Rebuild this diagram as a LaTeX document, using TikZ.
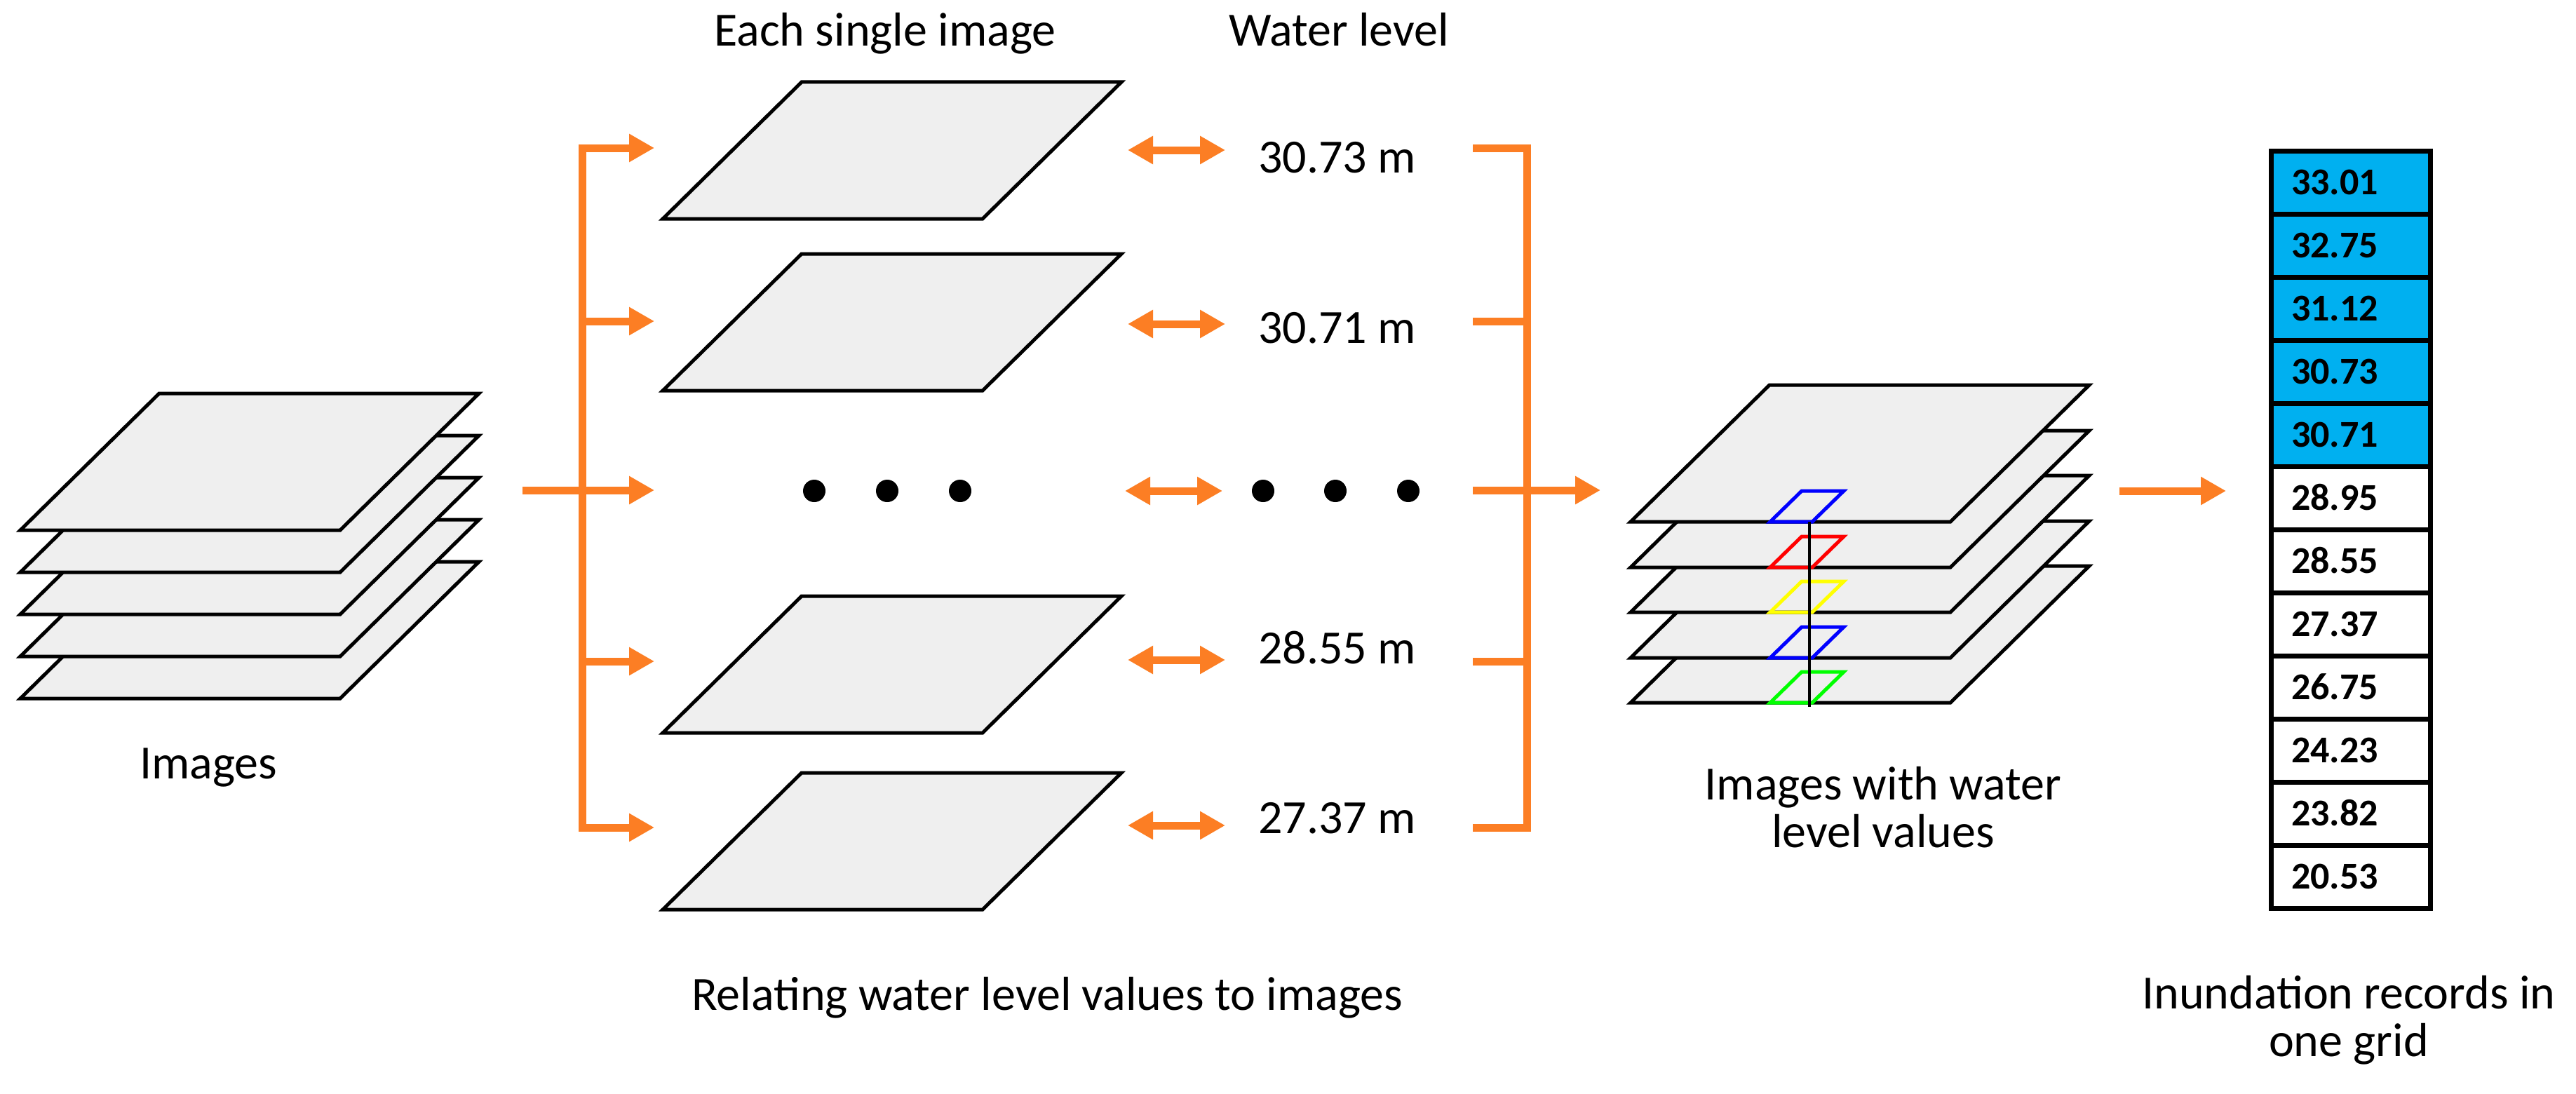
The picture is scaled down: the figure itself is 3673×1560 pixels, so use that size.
\documentclass[tikz,border=0pt]{standalone}
\usepackage{fontspec}
\setmainfont{Carlito}
\usetikzlibrary{arrows.meta}
\definecolor{orng}{RGB}{252,126,36}
\definecolor{sheetgray}{RGB}{239,239,239}
\definecolor{cellblue}{RGB}{0,176,240}
\definecolor{pblue}{RGB}{0,0,255}
\definecolor{pred}{RGB}{255,0,0}
\definecolor{pyellow}{RGB}{255,255,0}
\definecolor{pgreen}{RGB}{0,255,0}
\newcommand\drawsheet[2]{\draw[sheetbox] (#1,#2) -- ++(456,0) -- ++(198,-195) -- ++(-456,0) -- cycle;}
\newcommand\drawpatch[3]{\draw[line width=5pt,draw=#3,line join=miter] (#1,#2) -- ++(60,0) -- ++(45,-44) -- ++(-60,0) -- cycle;}
\begin{document}
\begin{tikzpicture}[x=1pt,y=-1pt,
  sheetbox/.style={fill=sheetgray,draw=black,line width=5pt,line join=miter},
  oline/.style={draw=orng,line width=11pt},
  oarrow/.style={oline,-{Triangle[length=36pt,width=38pt]}},
  darrow/.style={oline,{Triangle[length=36pt,width=38pt]}-{Triangle[length=36pt,width=38pt]}},
  lbl/.style={font=\fontsize{68}{68}\selectfont, inner sep=0pt},
  cellnum/.style={font=\bfseries\fontsize{54}{54}\selectfont, inner sep=0pt, anchor=base west},
  dotstyle/.style={circle,fill=black,minimum size=32pt,inner sep=0pt},
  cellbox/.style={draw=black,line width=7pt}
]
\fill[white] (0,0) rectangle (3673,1560);
\useasboundingbox (0,0) rectangle (3673,1560);

% ---------- left stack ----------
\drawsheet{29}{996}
\drawsheet{29}{936}
\drawsheet{29}{876}
\drawsheet{29}{816}
\drawsheet{29}{756}
\node[lbl,anchor=base] (imageslbl) at (297,1110) {Images};

% ---------- middle single images ----------
\drawsheet{945}{312}
\drawsheet{945}{557}
\drawsheet{945}{1045}
\drawsheet{945}{1297}
\node[lbl,anchor=base] (eachlbl) at (1262,66) {Each single image};
\node[lbl,anchor=base] (waterlbl) at (1909,66) {Water level};
\node[lbl,anchor=base] (relatinglbl) at (1493,1440) {Relating water level values to images};

\node[dotstyle] (d1) at (1161,700) {};
\node[dotstyle] (d2) at (1265,700) {};
\node[dotstyle] (d3) at (1369,700) {};
\node[dotstyle] (d4) at (1801,700) {};
\node[dotstyle] (d5) at (1904,700) {};
\node[dotstyle] (d6) at (2008,700) {};

\node[lbl,anchor=base west] (wl1) at (1794,246) {30.73 m};
\node[lbl,anchor=base west] (wl2) at (1794,489) {30.71 m};
\node[lbl,anchor=base west] (wl4) at (1794,946) {28.55 m};
\node[lbl,anchor=base west] (wl5) at (1794,1188) {27.37 m};

% ---------- left bracket ----------
\coordinate (lbtop) at (830,211);
\coordinate (lbbot) at (830,1180);
\coordinate (lb2) at (830,458);
\coordinate (lb4) at (830,943);
\coordinate (stackout) at (745,699);
\coordinate (la1) at (933,211);
\coordinate (la2) at (933,458);
\coordinate (la3) at (933,699);
\coordinate (la4) at (933,943);
\coordinate (la5) at (933,1180);
\draw[oline,line cap=rect] (lbtop) -- (lbbot);
\draw[oarrow] (lbtop) -- (la1);
\draw[oarrow] (lb2) -- (la2);
\draw[oarrow] (stackout) -- (la3);
\draw[oarrow] (lb4) -- (la4);
\draw[oarrow] (lbbot) -- (la5);

% ---------- double arrows ----------
\coordinate (da1l) at (1608,214); \coordinate (da1r) at (1747,214);
\coordinate (da2l) at (1608,462); \coordinate (da2r) at (1747,462);
\coordinate (da3l) at (1604,700); \coordinate (da3r) at (1743,700);
\coordinate (da4l) at (1608,941); \coordinate (da4r) at (1747,941);
\coordinate (da5l) at (1608,1177); \coordinate (da5r) at (1747,1177);
\draw[darrow] (da1l) -- (da1r);
\draw[darrow] (da2l) -- (da2r);
\draw[darrow] (da3l) -- (da3r);
\draw[darrow] (da4l) -- (da4r);
\draw[darrow] (da5l) -- (da5r);

% ---------- right bracket ----------
\coordinate (rbtop) at (2177,211);
\coordinate (rbbot) at (2177,1180);
\coordinate (rt1) at (2100,211);
\coordinate (rt2) at (2100,458);
\coordinate (rt3) at (2100,699);
\coordinate (rt4) at (2100,943);
\coordinate (rt5) at (2100,1180);
\coordinate (ra3) at (2282,699);
\draw[oline,line cap=rect] (rbtop) -- (rbbot);
\draw[oline] (rt1) -- (rbtop);
\draw[oline] (rt2) -- (2177,458);
\draw[oline] (rt4) -- (2177,943);
\draw[oline] (rt5) -- (rbbot);
\draw[oarrow] (rt3) -- (ra3);

% ---------- right stack ----------
\drawsheet{2325}{1002}
\drawsheet{2325}{938}
\drawsheet{2325}{873}
\drawsheet{2325}{809}
\drawsheet{2325}{744}
\drawpatch{2524}{744}{pblue}
\drawpatch{2524}{809}{pred}
\drawpatch{2524}{873}{pyellow}
\drawpatch{2524}{938}{pblue}
\drawpatch{2524}{1002}{pgreen}
\draw[line width=4pt] (2580,744) -- (2580,1008);
\node[lbl,align=center] (imgwl) at (2685,1151) {Images with water\\level values};

\coordinate (stk2out) at (3022,700);
\coordinate (tblin) at (3174,700);
\draw[oarrow] (stk2out) -- (tblin);

% ---------- table ----------
\foreach \v [count=\i from 0] in {33.01,32.75,31.12,30.73,30.71} {
  \draw[cellbox,fill=cellblue] (3238,{215+\i*90}) rectangle (3465,{305+\i*90});
  \node[cellnum] (cell\i) at (3267,{277+\i*90}) {\v};
}
\foreach \v [count=\i from 5] in {28.95,28.55,27.37,26.75,24.23,23.82,20.53} {
  \draw[cellbox,fill=white] (3238,{215+\i*90}) rectangle (3465,{305+\i*90});
  \node[cellnum] (cell\i) at (3267,{277+\i*90}) {\v};
}
\node[lbl,align=center] (inundlbl) at (3349,1455) {Inundation records in\\one grid};
\end{tikzpicture}
\end{document}
